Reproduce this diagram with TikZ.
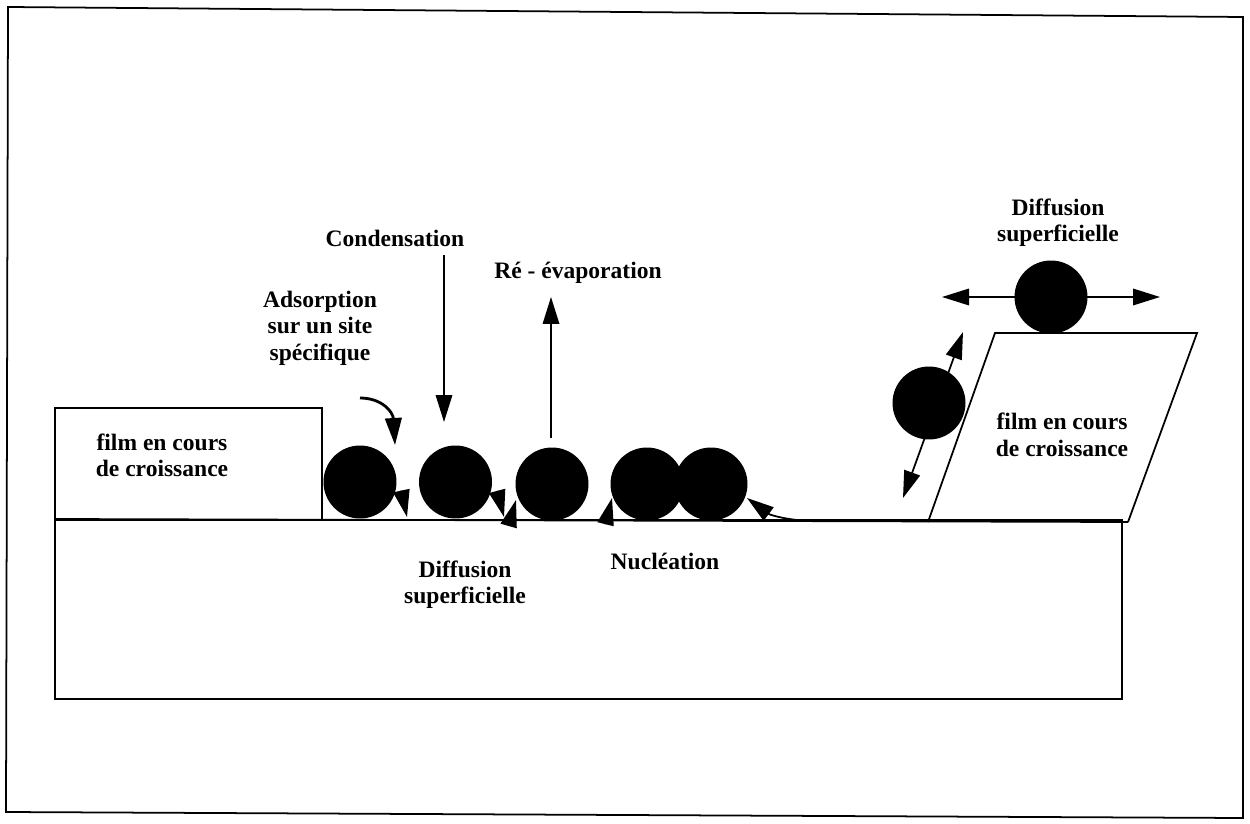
\documentclass[tikz,border=0pt]{standalone}
\usepackage{fontspec}
\setmainfont{Liberation Serif}
\usetikzlibrary{arrows.meta}

\begin{document}
\begin{tikzpicture}[
    x = 0.02cm, y = -0.02cm,
    line width = 1pt,
    every node/.style = {font = \fontsize{13.4}{15}\selectfont\bfseries, align = center},
    atom/.style = {circle, fill = black, inner sep = 0pt, minimum size = 1.46cm},
    arr/.style = {-{Triangle[length = 0.54cm, width = 0.33cm]}},
    arrtwo/.style = {{Triangle[length = 0.54cm, width = 0.33cm]}-{Triangle[length = 0.54cm, width = 0.33cm]}}]

\useasboundingbox (0,0) rectangle (1250,824);

\draw (8,7) -- (1243,17) -- (1243,818) -- (6,812) -- cycle;
\draw (55,520) rectangle (1122,699);
\draw (55,519) |- (322,408) -- (322,519);
\draw (928,522) -- (995,333) -- (1197,333) -- (1128,522);
\draw (55,519) -- (1128,522);

\draw[arr] (401.3,490.6) -- (407,517);
\draw[arr] (497.1,490.9) -- (504,517);
\draw[arr] (508.6,526) -- (516,500);
\draw[arr] (605.5,524.2) -- (612,498);
\draw[arr] (815,521) .. controls (790,521) and (770,515) .. (747,498);

\path (360,482) node[atom] (a1) {}
      (455.5,482) node[atom] (a2) {}
      (552,484) node[atom] (a3) {}
      (647,484) node[atom] (a4) {}
      (711,484) node[atom] (a5) {}
      (1051,297) node[atom] (a6) {}
      (929,403) node[atom] (a7) {};

\draw[arr] (444,255) -- (444,422);
\draw[arr] (551,438) -- (551,297);
\draw[arr, line width = 1.6pt] (360,398) .. controls (382,398) and (393,412) .. (395,445);
\draw[arrtwo] (942,297) -- (1160,297);
\draw[arrtwo] (903,498) -- (963,332);

\path (395,238) node(cond) {Condensation}
      (578,273) node(evap) {Ré - évaporation}
      (320,328) node(ads) {Adsorption\\sur un site\\spécifique}
      (465,585) node(diff) {Diffusion\\superficielle}
      (665,561) node(nuc) {Nucléation}
      (1058,223) node(diffb) {Diffusion\\superficielle}
      (162,455) node(filma) {film en cours\\de croissance}
      (1062,435) node(filmb) {film en cours\\de croissance};
\end{tikzpicture}
\end{document}
